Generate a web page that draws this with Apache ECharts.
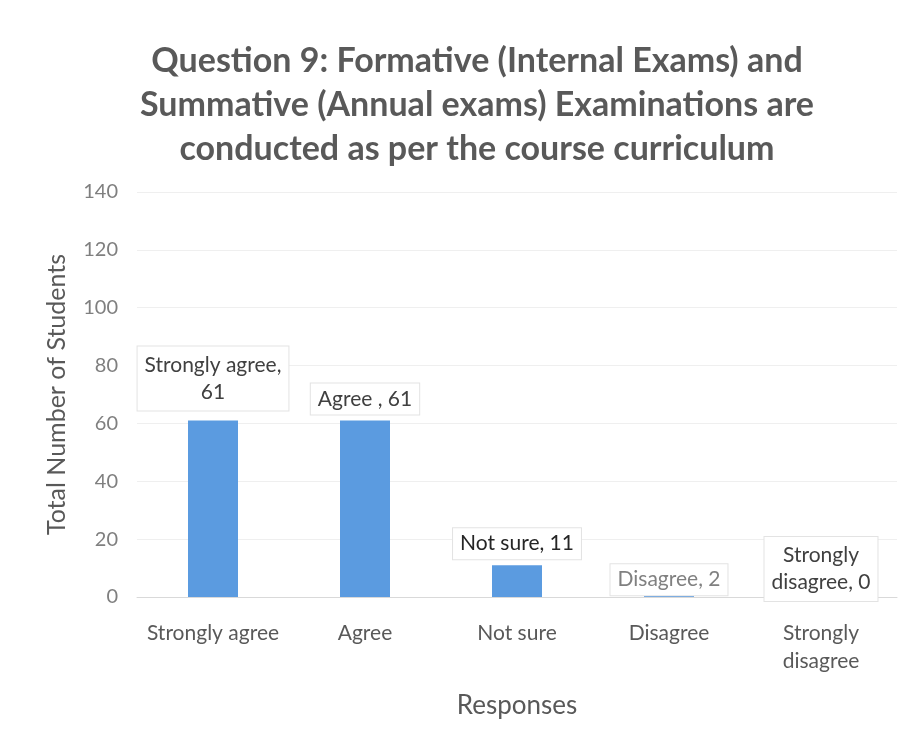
<!DOCTYPE html>
<html><head><meta charset="utf-8">
<script src="https://cdn.jsdelivr.net/npm/echarts@6/dist/echarts.min.js"></script>
<style>html,body{margin:0;padding:0;background:#fff;}#c{width:916px;height:746px;}</style>
</head><body><div id="c"></div>
<script>
const categories = ['Strongly agree','Agree','Not sure','Disagree','Strongly disagree'];
const axisLabels = ['Strongly agree','Agree','Not sure','Disagree','Strongly\ndisagree'];
const values = [61, 61, 11, 2, 0];
const dataLabels = ['Strongly agree,\n61','Agree , 61','Not sure, 11','Disagree, 2','Strongly\ndisagree, 0'];
const yTicks = [0,20,40,60,80,100,120,140];

const labelColors = ['#404040','#404040','#262626','#808080','#404040'];
const chart = echarts.init(document.getElementById('c'), null, {renderer:'canvas'});
const font = 'Lato, "Open Sans", sans-serif';
chart.setOption({
  backgroundColor:'#fff',
  animation:false,
  title:{
    text:'Question 9: Formative (Internal Exams) and\nSummative (Annual exams) Examinations are\nconducted as per the course curriculum',
    left:472, top:34, textAlign:'center',
    textStyle:{fontFamily:font,fontWeight:'bold',fontSize:34,lineHeight:44,color:'#595959'}
  },
  grid:{left:137,right:19,top:192,bottom:149},
  xAxis:{
    type:'category', data:axisLabels,
    name:'Responses', nameLocation:'middle', nameGap:96,
    nameTextStyle:{fontFamily:font,fontSize:26,color:'#595959'},
    axisTick:{show:false},
    axisLine:{lineStyle:{color:'#d9d9d9'}},
    axisLabel:{fontFamily:font,fontSize:21,color:'#595959',margin:22,lineHeight:28,interval:0}
  },
  yAxis:{
    type:'value', min:yTicks[0], max:yTicks[yTicks.length-1], interval:20,
    name:'Total Number of Students', nameLocation:'middle', nameGap:68,
    nameTextStyle:{fontFamily:font,fontSize:25,color:'#595959'},
    axisLine:{show:false}, axisTick:{show:false},
    axisLabel:{fontFamily:font,fontSize:20,color:'#7f7f7f',margin:19},
    splitLine:{lineStyle:{color:'#efefef'}}
  },
  series:[{
    type:'bar', barWidth:50,
    itemStyle:{color:'#5b9be0'},
    data: values.map((v,i)=>({
      value:v,
      label:{
        show:true, position:'top',
        distance: [10,6,6,-4,-4][i],
        formatter: dataLabels[i],
        fontFamily:font, fontSize:21, lineHeight:27,
        color: labelColors[i],
        backgroundColor:'#fff', borderColor:'#e3e3e3', borderWidth:1,
        padding: i===0 || i===4 ? [5,7,5,7] : [2,7,2,7]
      }
    }))
  }]
});
</script></body></html>
